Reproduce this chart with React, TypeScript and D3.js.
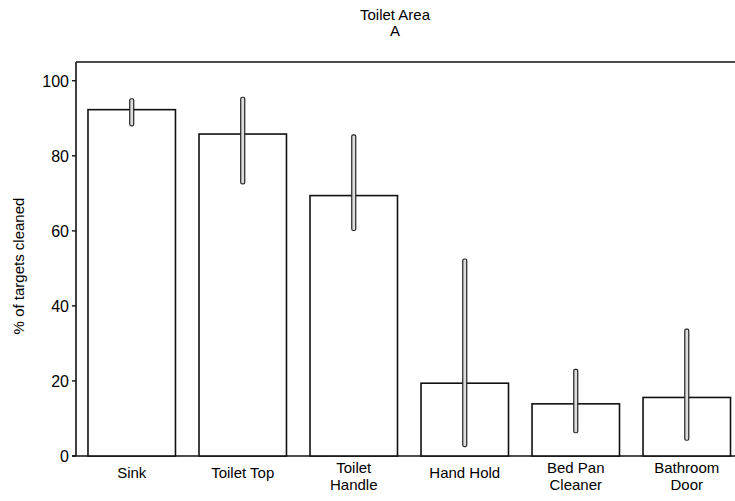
import React from "react";
import * as d3 from "d3";

const categories: string[][] = [
  ["Sink"],
  ["Toilet Top"],
  ["Toilet", "Handle"],
  ["Hand Hold"],
  ["Bed Pan", "Cleaner"],
  ["Bathroom", "Door"],
];
const means: number[] = [92.3, 85.8, 69.4, 19.4, 13.9, 15.6];
const errLow: number[] = [88.0, 72.5, 60.1, 2.5, 6.2, 4.2];
const errHigh: number[] = [95.2, 95.6, 85.6, 52.5, 23.1, 33.8];
const yTicks: number[] = [0, 20, 40, 60, 80, 100];
const titleLines: string[] = ["Toilet Area", "A"];
const yLabel = "% of targets cleaned";

const W = 735;
const H = 501;
const FONT = "'Liberation Sans', Arial, Helvetica, sans-serif";

export default function App() {
  const left = 76;
  const top = 62;
  const bottom = 456;
  const right = 735;

  const y = d3.scaleLinear().domain([0, 105]).range([bottom, top]);
  const x = d3
    .scaleBand<number>()
    .domain(d3.range(categories.length))
    .range([left, 742.5])
    .paddingInner(0.212)
    .paddingOuter(0.108);

  const ebW = 4;

  return (
    <svg
      width={W}
      height={H}
      style={{ position: "absolute", left: 0, top: 0, background: "#fff" }}
      fontFamily={FONT}
    >
      <rect x={0} y={0} width={W} height={H} fill="#fff" />
      {titleLines.map((t, i) => (
        <text
          key={i}
          x={395}
          y={20 + i * 16}
          textAnchor="middle"
          fontSize={15}
          fill="#000"
        >
          {t}
        </text>
      ))}
      <line x1={left} x2={right} y1={top} y2={top} stroke="#111" strokeWidth={1.6} />
      <line x1={left} x2={left} y1={top} y2={bottom} stroke="#111" strokeWidth={1.6} />
      <line x1={left - 4} x2={right} y1={bottom} y2={bottom} stroke="#111" strokeWidth={1.6} />
      {yTicks.map((t) => (
        <g key={t}>
          <line x1={left - 4} x2={left} y1={y(t)} y2={y(t)} stroke="#111" strokeWidth={1.4} />
          <text
            x={left - 7}
            y={y(t)}
            dy="0.36em"
            textAnchor="end"
            fontSize={16}
            fill="#000"
          >
            {t}
          </text>
        </g>
      ))}
      <text
        transform={`translate(24, 266) rotate(-90)`}
        textAnchor="middle"
        fontSize={15}
        fill="#000"
      >
        {yLabel}
      </text>
      {means.map((m, i) => {
        const bx = x(i)!;
        const bw = x.bandwidth();
        const cx = bx + bw / 2;
        return (
          <g key={i}>
            <rect
              x={bx}
              y={y(m)}
              width={bw}
              height={bottom - y(m)}
              fill="#fff"
              stroke="#111"
              strokeWidth={1.6}
            />
            <rect
              x={cx - ebW / 2}
              y={y(errHigh[i])}
              width={ebW}
              height={y(errLow[i]) - y(errHigh[i])}
              rx={1.5}
              fill="#ddd"
              stroke="#222"
              strokeWidth={1.2}
            />
            {categories[i].map((line, j) => (
              <text
                key={j}
                x={cx}
                y={478 + j * 17 - (categories[i].length - 1) * 5}
                textAnchor="middle"
                fontSize={15}
                fill="#000"
              >
                {line}
              </text>
            ))}
          </g>
        );
      })}
    </svg>
  );
}
